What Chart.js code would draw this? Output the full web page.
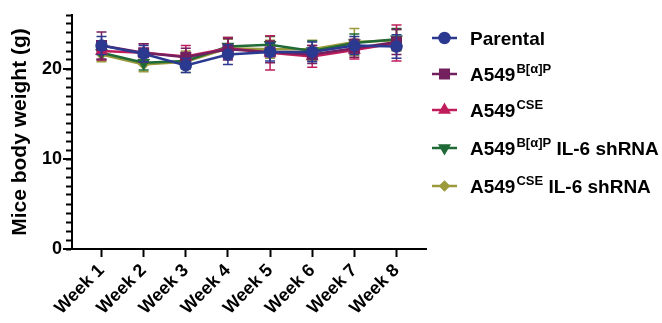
<!DOCTYPE html>
<html>
<head>
<meta charset="utf-8">
<script src="https://cdn.jsdelivr.net/npm/chart.js@4/dist/chart.umd.min.js"></script>
<style>
  html, body { margin: 0; padding: 0; background: #fff; }
  #wrap { width: 662px; height: 323px; position: relative; }
</style>
</head>
<body>
<div id="wrap"><canvas id="c"></canvas></div>
<script>
const WEEKS = ['Week 1','Week 2','Week 3','Week 4','Week 5','Week 6','Week 7','Week 8'];
const Y_LABELS = [0, 10, 20];

const parental   = [22.6, 21.7, 20.4, 21.6, 21.9, 21.9, 22.6, 22.5];
const parentalSd = [1.0, 0.9, 0.8, 1.1, 1.0, 1.1, 1.0, 1.3];
const bap        = [22.6, 21.8, 21.3, 22.2, 21.9, 21.6, 22.3, 23.0];
const bapSd      = [1.5, 1.0, 1.0, 1.2, 1.2, 1.0, 1.0, 1.4];
const cse        = [22.0, 21.8, 21.4, 22.3, 21.8, 21.4, 22.1, 22.9];
const cseSd      = [1.0, 1.0, 1.2, 1.2, 1.9, 1.2, 1.0, 2.0];
const bapSh      = [21.8, 20.7, 20.9, 22.5, 22.7, 22.0, 22.9, 23.3];
const bapShSd    = [0.8, 0.8, 0.9, 1.0, 0.9, 1.1, 1.0, 1.2];
const cseSh      = [21.6, 20.5, 20.8, 22.3, 22.2, 22.2, 23.0, 23.2];
const cseShSd    = [0.8, 0.8, 1.2, 1.0, 1.0, 1.0, 1.5, 1.2];

const FONT = '"Liberation Sans", Arial, sans-serif';

// legend label: main text, superscript, tail
const SERIES = [
  { main: 'Parental', sup: '', tail: '', data: parental, sd: parentalSd, color: '#2b3990', style: 'circle', rot: 0, r: 5 },
  { main: 'A549', sup: 'B[\u03b1]P', tail: '', data: bap, sd: bapSd, color: '#74205f', style: 'rect', rot: 0, r: 6 },
  { main: 'A549', sup: 'CSE', tail: '', data: cse, sd: cseSd, color: '#bf1d5b', style: 'triangle', rot: 0, r: 5 },
  { main: 'A549', sup: 'B[\u03b1]P', tail: ' IL-6 shRNA', data: bapSh, sd: bapShSd, color: '#1f6a37', style: 'triangle', rot: 180, r: 5 },
  { main: 'A549', sup: 'CSE', tail: ' IL-6 shRNA', data: cseSh, sd: cseShSd, color: '#9b9a3c', style: 'rectRot', rot: 0, r: 4 }
];

const errorBars = {
  id: 'errorBars',
  beforeDatasetDraw(chart, args) {
    const s = SERIES[args.index];
    const y = chart.scales.y;
    const ctx = chart.ctx;
    ctx.save();
    ctx.strokeStyle = s.color;
    ctx.lineWidth = 1.5;
    args.meta.data.forEach((pt, i) => {
      const top = y.getPixelForValue(s.data[i] + s.sd[i]);
      const bot = y.getPixelForValue(s.data[i] - s.sd[i]);
      ctx.beginPath();
      ctx.moveTo(pt.x, top); ctx.lineTo(pt.x, bot);
      ctx.moveTo(pt.x - 5, top); ctx.lineTo(pt.x + 5, top);
      ctx.moveTo(pt.x - 5, bot); ctx.lineTo(pt.x + 5, bot);
      ctx.stroke();
    });
    ctx.restore();
  }
};

const majorTicks = {
  id: 'majorTicks',
  afterDraw(chart) {
    const y = chart.scales.y;
    const ctx = chart.ctx;
    ctx.save();
    ctx.strokeStyle = '#000';
    ctx.lineWidth = 2;
    Y_LABELS.forEach(v => {
      const py = y.getPixelForValue(v);
      ctx.beginPath();
      ctx.moveTo(chart.chartArea.left, py);
      ctx.lineTo(chart.chartArea.left - 9, py);
      ctx.stroke();
    });
    ctx.restore();
  }
};

const sideLegend = {
  id: 'sideLegend',
  afterDraw(chart) {
    const ctx = chart.ctx;
    const x0 = chart.chartArea.right + 6;
    const rows = [38, 74, 110, 148, 186];
    ctx.save();
    SERIES.forEach((s, i) => {
      const yy = rows[i];
      ctx.strokeStyle = s.color;
      ctx.fillStyle = s.color;
      ctx.lineWidth = 2.5;
      ctx.beginPath();
      ctx.moveTo(x0, yy); ctx.lineTo(x0 + 25, yy);
      ctx.stroke();
      if (Chart.helpers && Chart.helpers.drawPoint) {
        Chart.helpers.drawPoint(ctx, { pointStyle: s.style, rotation: s.rot, radius: s.r, borderWidth: 1 }, x0 + 12.5, yy);
      }
      ctx.fillStyle = '#000';
      ctx.textBaseline = 'alphabetic';
      ctx.textAlign = 'left';
      let tx = x0 + 38;
      const base = yy + 7;
      ctx.font = 'bold 19px ' + FONT;
      ctx.fillText(s.main, tx, base);
      tx += ctx.measureText(s.main).width + 1;
      if (s.sup) {
        ctx.font = 'bold 13px ' + FONT;
        ctx.fillText(s.sup, tx, base - 8);
        tx += ctx.measureText(s.sup).width;
      }
      if (s.tail) {
        ctx.font = 'bold 19px ' + FONT;
        ctx.fillText(s.tail, tx, base);
      }
    });
    ctx.restore();
  }
};

new Chart(document.getElementById('c'), {
  type: 'line',
  data: {
    datasets: SERIES.map(s => ({
      label: s.main + s.sup + s.tail,
      data: s.data.map((v, i) => ({ x: i + 1, y: v })),
      borderColor: s.color,
      backgroundColor: s.color,
      borderWidth: 2.5,
      pointStyle: s.style,
      pointRotation: s.rot,
      pointRadius: s.r,
      pointHoverRadius: s.r,
      tension: 0,
      fill: false
    }))
  },
  options: {
    responsive: true,
    maintainAspectRatio: false,
    animation: false,
    events: [],
    layout: { padding: { top: 15, right: 236, left: 0, bottom: 0 } },
    plugins: { legend: { display: false }, tooltip: { enabled: false } },
    scales: {
      x: {
        type: 'linear',
        min: 0.3,
        max: 8.7,
        afterBuildTicks: sc => { sc.ticks = WEEKS.map((w, i) => ({ value: i + 1 })); },
        afterFit: sc => { sc.height = 74; },
        border: { color: '#000', width: 2 },
        grid: { drawOnChartArea: false, tickLength: 8, tickColor: '#000', tickWidth: 2 },
        ticks: {
          minRotation: 45, maxRotation: 45, padding: 3, color: '#000',
          font: { family: FONT, size: 18, weight: 'bold' },
          callback: v => WEEKS[v - 1] || ''
        }
      },
      y: {
        min: 0,
        max: 26,
        afterFit: sc => { sc.width = 72; },
        border: { color: '#000', width: 2 },
        grid: { drawOnChartArea: false, tickLength: 6, tickColor: '#000', tickWidth: 2 },
        ticks: {
          stepSize: 1, autoSkip: false, padding: 4, color: '#000',
          font: { family: FONT, size: 18, weight: 'bold' },
          callback: v => (Y_LABELS.includes(v) ? v : '')
        },
        title: {
          display: true, text: 'Mice body weight (g)', color: '#000',
          font: { family: FONT, size: 21, weight: 'bold' },
          padding: { top: 8, bottom: 0 }
        }
      }
    }
  },
  plugins: [errorBars, majorTicks, sideLegend]
});
</script>
</body>
</html>
